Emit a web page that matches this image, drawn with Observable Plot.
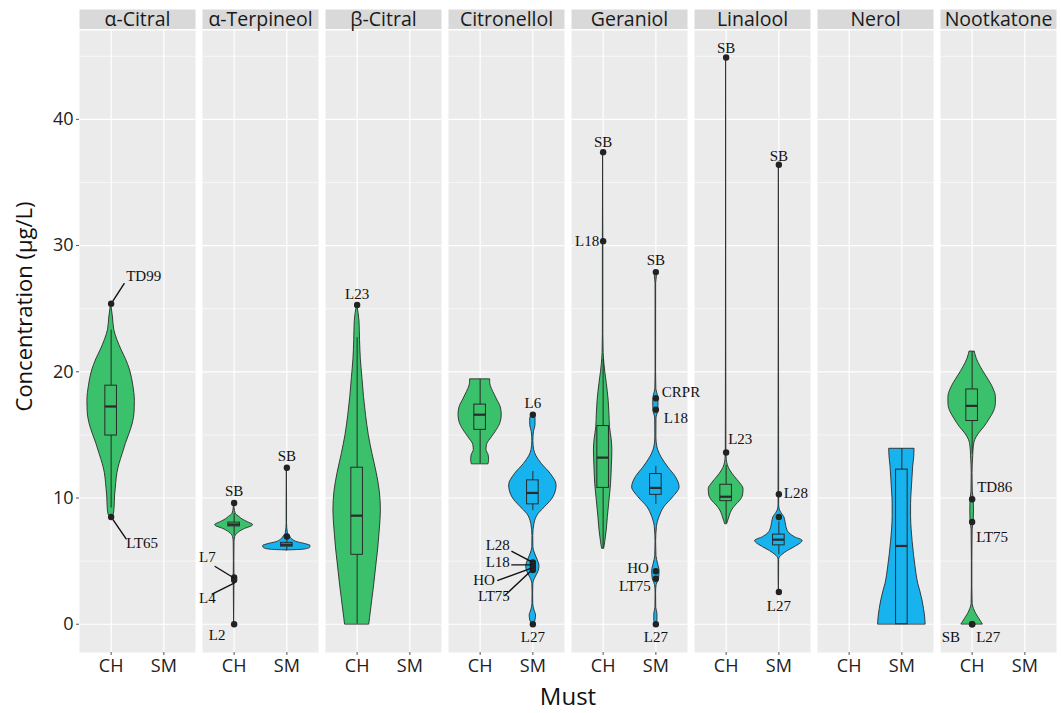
<!DOCTYPE html>
<html><head><meta charset="utf-8">
<script src="https://cdn.jsdelivr.net/npm/d3@7"></script>
<script src="https://cdn.jsdelivr.net/npm/@observablehq/plot@0.6"></script>
<style>body{margin:0;background:#fff}</style>
</head><body><div id="chart"></div>
<script>
// ---------- data ----------
const compounds = ["α-Citral", "α-Terpineol", "β-Citral", "Citronellol", "Geraniol", "Linalool", "Nerol", "Nootkatone"];
const musts = ["CH", "SM"];
const yTicks = [0, 10, 20, 30, 40];
const yMinor = [5, 15, 25, 35, 45];

// violin profiles: [concentration, half-width of violin in must units]
const vAlphaCitralCH = [[8.5,0],[8.7,0.05],[9.2,0.065],[10.2,0.075],[11.1,0.095],[12.0,0.12],[12.7,0.16],[13.5,0.22],[14.3,0.28],[15.1,0.35],[15.9,0.41],[16.8,0.445],[17.7,0.45],[18.9,0.42],[20.1,0.36],[21.0,0.28],[21.7,0.2],[22.5,0.12],[23.3,0.06],[24.3,0.035],[25.4,0]];
const vAlphaTerpCH = [[0,0],[1.5,0.004],[3.0,0.006],[3.7,0.008],[5,0.005],[6.5,0.008],[6.9,0.02],[7.2,0.07],[7.5,0.18],[7.85,0.36],[8.1,0.25],[8.3,0.16],[8.5,0.1],[8.75,0.03],[9.2,0.008],[9.6,0]];
const vAlphaTerpSM = [[5.85,0],[5.9,0.3],[6.05,0.44],[6.2,0.45],[6.35,0.35],[6.5,0.2],[6.7,0.11],[6.95,0.06],[7.2,0.02],[8,0.004],[10,0.004],[12.4,0]];
const vBetaCitralCH = [[0,0.23],[1.0,0.26],[2.0,0.29],[3.0,0.32],[4.5,0.36],[6.0,0.4],[7.5,0.43],[9.0,0.45],[10.5,0.43],[12.0,0.37],[13.5,0.29],[15.0,0.22],[16.5,0.17],[18.0,0.13],[19.5,0.1],[21.0,0.07],[22.5,0.055],[24.0,0.045],[25.3,0]];
const vCitronellolCH = [[12.7,0.16],[13.0,0.17],[13.4,0.16],[13.8,0.12],[14.2,0.13],[14.8,0.22],[15.4,0.32],[16.0,0.39],[16.6,0.41],[17.2,0.39],[17.8,0.32],[18.4,0.25],[18.9,0.2],[19.2,0.19],[19.4,0.19]];
const vCitronellolSM = [[0,0],[0.3,0.05],[0.7,0.06],[1.1,0.03],[1.6,0.008],[2.5,0.006],[3.2,0.01],[3.7,0.05],[4.2,0.11],[4.6,0.125],[5.1,0.09],[5.6,0.04],[6.1,0.01],[7.0,0.008],[7.95,0.03],[8.75,0.11],[9.27,0.23],[10.06,0.39],[11.0,0.45],[11.9,0.34],[12.7,0.17],[13.3,0.07],[13.8,0.025],[14.5,0.01],[15.2,0.02],[15.8,0.05],[16.3,0.05],[16.6,0]];
const vGeraniolCH = [[6.0,0.02],[6.5,0.04],[7.5,0.07],[8.5,0.09],[9.8,0.12],[11.1,0.15],[12.5,0.165],[13.8,0.175],[14.7,0.16],[15.6,0.13],[16.6,0.12],[17.7,0.105],[19.05,0.07],[20.0,0.04],[20.6,0.025],[21.5,0.01],[23,0.005],[30.35,0.005],[37.4,0]];
const vGeraniolSM = [[0,0],[0.3,0.03],[0.8,0.03],[1.3,0.008],[2.5,0.005],[3.1,0.015],[3.6,0.06],[4.2,0.07],[4.8,0.04],[5.4,0.012],[6.5,0.006],[7.7,0.02],[8.5,0.07],[9.27,0.16],[10.06,0.33],[10.85,0.45],[11.65,0.38],[12.4,0.24],[13.2,0.11],[14.0,0.03],[14.8,0.01],[16.3,0.012],[16.9,0.045],[17.5,0.05],[18.1,0.04],[18.6,0.01],[20,0.005],[27.0,0.006],[27.6,0.02],[27.9,0]];
const vLinaloolCH = [[7.95,0.02],[8.2,0.04],[8.6,0.07],[9.0,0.11],[9.4,0.18],[9.8,0.27],[10.2,0.32],[10.7,0.33],[11.2,0.26],[11.7,0.16],[12.1,0.09],[12.4,0.05],[12.8,0.02],[13.2,0.01],[13.6,0.006],[20,0.004],[44.9,0]];
const vLinaloolSM = [[2.55,0],[3.5,0.004],[5.1,0.006],[5.3,0.02],[5.5,0.07],[5.8,0.17],[6.1,0.3],[6.6,0.45],[6.9,0.3],[7.2,0.2],[7.6,0.15],[8.0,0.13],[8.5,0.1],[8.8,0.05],[9.1,0.015],[9.5,0.006],[10.3,0.006],[20,0.004],[36.4,0]];
const vNerolSM = [[0,0.45],[0.6,0.44],[1.2,0.42],[1.9,0.39],[2.6,0.35],[3.2,0.31],[3.9,0.28],[4.5,0.26],[5.5,0.23],[6.5,0.205],[7.5,0.185],[8.5,0.175],[9.5,0.175],[10.5,0.185],[11.5,0.2],[12.5,0.215],[13.3,0.235],[13.9,0.24]];
const vNootkatoneCH = [[0,0.2],[0.4,0.14],[0.8,0.08],[1.2,0.035],[1.6,0.01],[3,0.005],[5,0.005],[7.5,0.01],[8.1,0.03],[9.0,0.035],[9.9,0.03],[10.5,0.012],[12,0.008],[13.3,0.02],[14.0,0.03],[14.6,0.06],[15.1,0.13],[15.6,0.23],[16.3,0.34],[16.9,0.42],[17.5,0.45],[18.0,0.45],[18.6,0.41],[19.1,0.35],[19.7,0.26],[20.4,0.16],[21.0,0.09],[21.4,0.06],[21.6,0.05]];

const violinSeries = [
  ["α-Citral", "CH", vAlphaCitralCH],
  ["α-Terpineol", "CH", vAlphaTerpCH],
  ["α-Terpineol", "SM", vAlphaTerpSM],
  ["β-Citral", "CH", vBetaCitralCH],
  ["Citronellol", "CH", vCitronellolCH],
  ["Citronellol", "SM", vCitronellolSM],
  ["Geraniol", "CH", vGeraniolCH],
  ["Geraniol", "SM", vGeraniolSM],
  ["Linalool", "CH", vLinaloolCH],
  ["Linalool", "SM", vLinaloolSM],
  ["Nerol", "SM", vNerolSM],
  ["Nootkatone", "CH", vNootkatoneCH]
];

// box statistics: [compound, must, lower whisker, Q1, median, Q3, upper whisker]
const boxStats = [
  ["α-Citral", "CH", 9.2, 14.95, 17.25, 18.9, 23.3],
  ["α-Terpineol", "CH", 7.0, 7.75, 7.9, 8.05, 8.75],
  ["α-Terpineol", "SM", 5.9, 6.15, 6.3, 6.45, 6.8],
  ["β-Citral", "CH", 0, 5.5, 8.6, 12.4, 22.7],
  ["Citronellol", "CH", 12.7, 15.4, 16.6, 17.4, 19.4],
  ["Citronellol", "SM", 9.0, 9.5, 10.4, 11.4, 12.1],
  ["Geraniol", "CH", 6.0, 10.8, 13.2, 15.7, 21.0],
  ["Geraniol", "SM", 9.5, 10.25, 10.8, 11.9, 12.5],
  ["Linalool", "CH", 8.0, 9.75, 10.1, 11.05, 12.6],
  ["Linalool", "SM", 5.5, 6.25, 6.7, 7.1, 8.1],
  ["Nerol", "SM", 0, 0, 6.2, 12.25, 13.9],
  ["Nootkatone", "CH", 13.5, 16.1, 17.3, 18.6, 21.6]
];

// outliers: [compound, must, concentration, sample label]
const outliers = [
  ["α-Citral", "CH", 25.4, "TD99"],
  ["α-Citral", "CH", 8.5, "LT65"],
  ["α-Terpineol", "CH", 9.6, "SB"],
  ["α-Terpineol", "CH", 3.7, "L7"],
  ["α-Terpineol", "CH", 3.5, "L4"],
  ["α-Terpineol", "CH", 0, "L2"],
  ["α-Terpineol", "SM", 12.4, "SB"],
  ["α-Terpineol", "SM", 6.95, ""],
  ["β-Citral", "CH", 25.3, "L23"],
  ["Citronellol", "SM", 16.6, "L6"],
  ["Citronellol", "SM", 4.9, "L28"],
  ["Citronellol", "SM", 4.7, "L18"],
  ["Citronellol", "SM", 4.5, "HO"],
  ["Citronellol", "SM", 4.3, "LT75"],
  ["Citronellol", "SM", 0, "L27"],
  ["Geraniol", "CH", 37.4, "SB"],
  ["Geraniol", "CH", 30.35, "L18"],
  ["Geraniol", "SM", 27.9, "SB"],
  ["Geraniol", "SM", 17.9, "CRPR"],
  ["Geraniol", "SM", 17.0, "L18"],
  ["Geraniol", "SM", 4.2, "HO"],
  ["Geraniol", "SM", 3.6, "LT75"],
  ["Geraniol", "SM", 0, "L27"],
  ["Linalool", "CH", 44.9, "SB"],
  ["Linalool", "CH", 13.6, "L23"],
  ["Linalool", "SM", 36.4, "SB"],
  ["Linalool", "SM", 10.3, "L28"],
  ["Linalool", "SM", 8.5, ""],
  ["Linalool", "SM", 2.55, "L27"],
  ["Nootkatone", "CH", 9.9, "TD86"],
  ["Nootkatone", "CH", 8.1, "LT75"],
  ["Nootkatone", "CH", 0, "SB"],
  ["Nootkatone", "CH", 0, "L27"]
];

// ---------- styles (label placement in pixels, parallel to outliers) ----------
const M = "middle", S = "start", E = "end";
const labelStyle = [
  {dx: 15, dy: -27, a: S, lead: [2, -3, 13, -20]},
  {dx: 15, dy: 26, a: S, lead: [2, 3, 15, 22]},
  {dx: 0, dy: -12, a: M},
  {dx: -18.5, dy: -20, a: E, lead: [-19, -11, -1, 0]},
  {dx: -18.5, dy: 18.5, a: E, lead: [-22, 14, 0, 3]},
  {dx: -17, dy: 11, a: M},
  {dx: 0, dy: -12, a: M},
  null,
  {dx: 0, dy: -11, a: M},
  {dx: 0, dy: -12, a: M},
  {dx: -23, dy: -17, a: E, lead: [-21, -11, -2, -1]},
  {dx: -23, dy: -3, a: E, lead: [-21, 0, -2, 0]},
  {dx: -38, dy: 13, a: E, lead: [-35, 13, -2, 1]},
  {dx: -23, dy: 26.5, a: E, lead: [-28, 25.5, -2, 1]},
  {dx: 0, dy: 13, a: M},
  {dx: 0, dy: -10, a: M},
  {dx: -4, dy: 0, a: E},
  {dx: 0, dy: -12, a: M},
  {dx: 6, dy: -6, a: S},
  {dx: 8, dy: 9, a: S},
  {dx: -7, dy: -3, a: E},
  {dx: -5, dy: 7.5, a: E},
  {dx: 0, dy: 13, a: M},
  {dx: 0, dy: -9, a: M},
  {dx: 2, dy: -13, a: S},
  {dx: 0, dy: -9, a: M},
  {dx: 5, dy: -1, a: S},
  null,
  {dx: 0, dy: 14, a: M},
  {dx: 5, dy: -12, a: S},
  {dx: 4, dy: 15, a: S},
  {dx: -12, dy: 13, a: E},
  {dx: 4, dy: 13, a: S}
];

const green = "#3BC16C", blue = "#16B3EF", outline = "#2a2a2a";
const BOX_HALF = 0.11;
const sans = "Open Sans";
const serif = "Liberation Serif";

// ---------- build ----------
const pos = m => musts.indexOf(m);
const violinRows = violinSeries.flatMap(([compound, must, prof]) => prof.map(([v, w]) => ({compound, must, v, w})));
const boxRows = boxStats.map(([compound, must, lo, q1, med, q3, hi]) => ({compound, must, lo, q1, med, q3, hi}));
const outRows = outliers.map(([compound, must, value, label], i) => ({compound, must, value, label, i}));

const leaderShape = {draw(ctx, l) { ctx.moveTo(0, 0); ctx.lineTo(0, -l); }};

const labelMarks = outRows.filter(d => d.label && labelStyle[d.i]).flatMap(d => {
  const s = labelStyle[d.i];
  const marks = [Plot.text([d], {fx: "compound", x: r => pos(r.must), y: "value", text: "label",
    dx: s.dx, dy: s.dy, textAnchor: s.a, fontFamily: serif, fontSize: 15, fill: "#111"})];
  if (s.lead) {
    const [sx, sy, ex, ey] = s.lead;
    const L = Math.hypot(ex - sx, ey - sy);
    const R = Math.atan2(ex - sx, -(ey - sy)) * 180 / Math.PI;
    marks.push(Plot.vector([d], {fx: "compound", x: r => pos(r.must), y: "value", dx: sx, dy: sy,
      length: L, rotate: R, anchor: "start", shape: leaderShape, stroke: "#111", strokeWidth: 1.4}));
  }
  return marks;
});

const chart = Plot.plot({
  width: 1061,
  height: 713,
  marginLeft: 77,
  marginRight: 2.5,
  marginTop: 30,
  marginBottom: 61,
  style: {fontFamily: sans, background: "#fff"},
  fx: {domain: compounds, paddingInner: 0.053, paddingOuter: 0, label: null},
  x: {domain: [-0.6, 1.6]},
  y: {domain: [-2.24, 47.04]},
  color: {domain: musts, range: [green, blue]},
  marks: [
    Plot.frame({fill: "#EBEBEB"}),
    Plot.frame({fill: "#D9D9D9", insetTop: -21, insetBottom: 623.5}),
    Plot.gridY({ticks: yMinor, stroke: "#fff", strokeOpacity: 1, strokeWidth: 0.6}),
    Plot.gridY({ticks: yTicks, stroke: "#fff", strokeOpacity: 1, strokeWidth: 1.2}),
    Plot.gridX({ticks: [0, 1], stroke: "#fff", strokeOpacity: 1, strokeWidth: 1.2}),
    Plot.axisFx({anchor: "top", tickSize: 0, tickPadding: 5, fontSize: 19.5, fill: "#1a1a1a", label: null}),
    Plot.axisY({ticks: yTicks, tickSize: 3, tickPadding: 3, fontSize: 18, fill: "#222", stroke: "#555", label: null}),
    Plot.axisX({ticks: [0, 1], tickFormat: i => musts[i], tickSize: 3, tickPadding: 4, fontSize: 18, fill: "#222", stroke: "#555", label: null}),
    Plot.areaX(violinRows, {fx: "compound", y: "v", x1: d => pos(d.must) - d.w, x2: d => pos(d.must) + d.w,
      z: "must", fill: "must", stroke: outline, strokeWidth: 0.9, curve: "monotone-y"}),
    Plot.ruleX(boxRows, {fx: "compound", x: d => pos(d.must), y1: "q3", y2: "hi", stroke: outline, strokeWidth: 1}),
    Plot.ruleX(boxRows, {fx: "compound", x: d => pos(d.must), y1: "lo", y2: "q1", stroke: outline, strokeWidth: 1}),
    Plot.rect(boxRows, {fx: "compound", x1: d => pos(d.must) - BOX_HALF, x2: d => pos(d.must) + BOX_HALF,
      y1: "q1", y2: "q3", fill: "must", stroke: outline, strokeWidth: 1}),
    Plot.ruleY(boxRows, {fx: "compound", y: "med", x1: d => pos(d.must) - BOX_HALF, x2: d => pos(d.must) + BOX_HALF,
      stroke: outline, strokeWidth: 2.2}),
    Plot.dot(outRows, {fx: "compound", x: d => pos(d.must), y: "value", r: 3.2, fill: "#222"}),
    ...labelMarks,
    Plot.text(["Concentration (μg/L)"], {facet: "super", frameAnchor: "left", text: d => d, rotate: -90,
      textAnchor: "middle", dx: -55, dy: -35, fontSize: 22, fill: "#111"}),
    Plot.text(["Must"], {facet: "super", frameAnchor: "bottom", text: d => d, dy: 52, fontSize: 24, fill: "#111"})
  ]
});
document.getElementById("chart").appendChild(chart);
</script></body></html>
